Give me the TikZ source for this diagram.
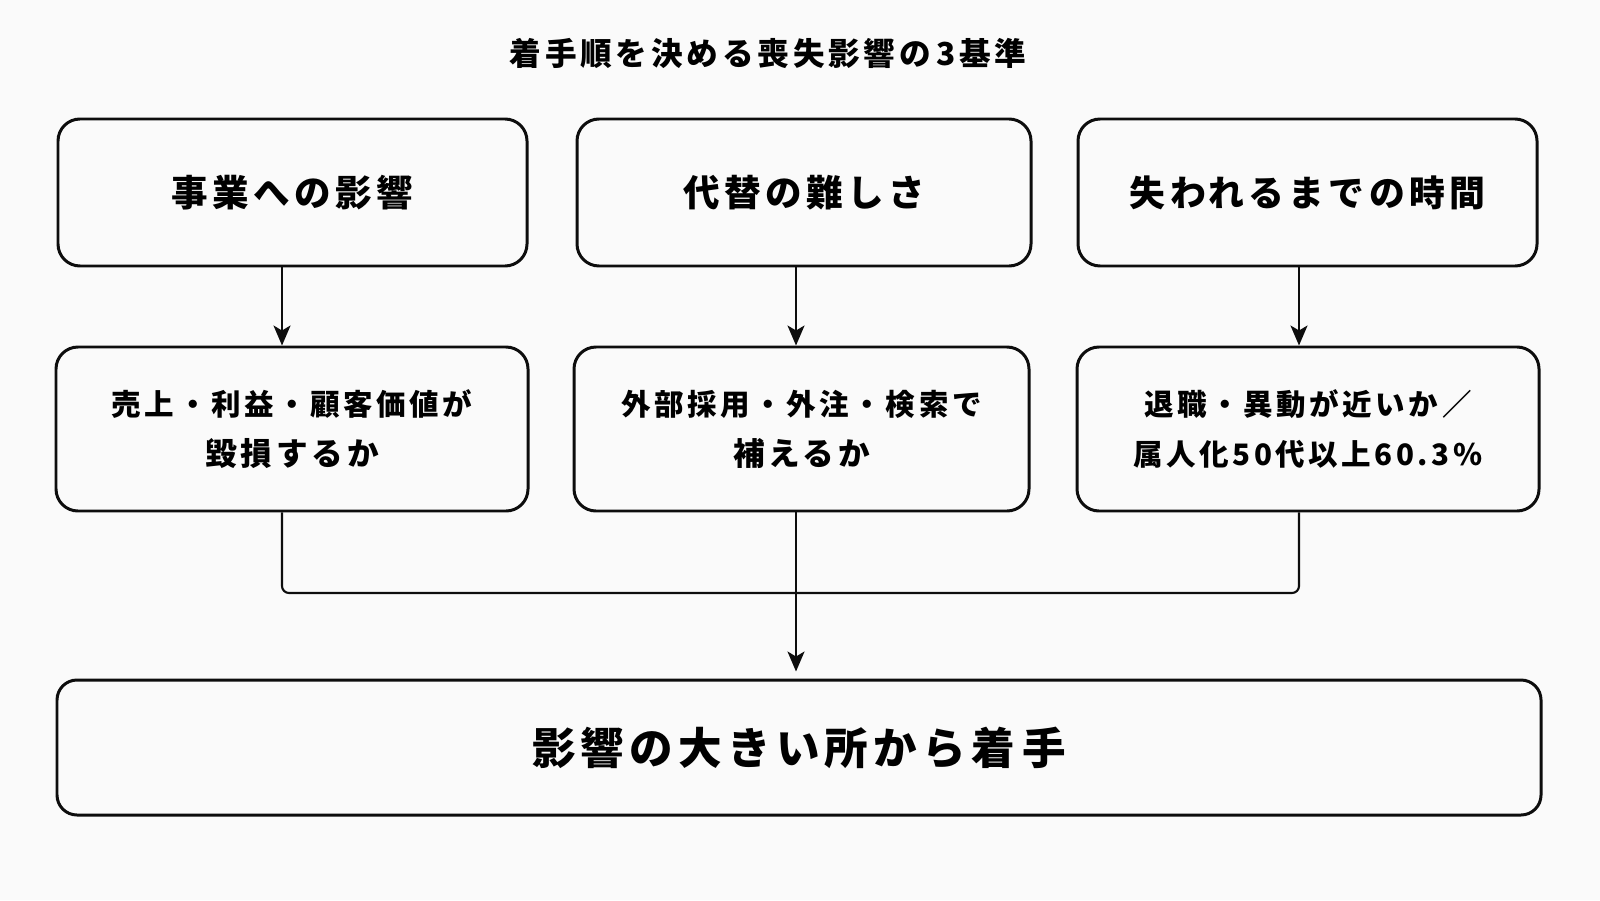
\documentclass[tikz,border=0pt]{standalone}
\usepackage{fontspec}
\setmainfont{Noto Sans CJK JP}[LetterSpace=12]
\usetikzlibrary{arrows.meta, calc}

\tikzset{
  box/.style={draw=black!95, line width=0.85pt, rounded corners=0.22cm, align=center},
  conn/.style={draw=black!95, line width=0.6pt},
  arr/.style={conn, -{Stealth[length=0.2cm, width=0.17cm, inset=0.05cm]}}
}

\begin{document}
\begin{tikzpicture}
\useasboundingbox[fill=black!2] (0,0) rectangle (16,9);
% Title
\node (title) at (7.68,8.47) {\fontsize{9}{10}\selectfont\bfseries 着手順を決める喪失影響の\,3基準};
% Criteria boxes
\node[box, minimum width=4.69cm, minimum height=1.47cm] (t1) at (2.925,7.075) {\fontsize{10.4}{12}\selectfont\bfseries 事業への影響};
\node[box, minimum width=4.54cm, minimum height=1.47cm] (t2) at (8.04,7.075) {\fontsize{10.4}{12}\selectfont\bfseries 代替の難しさ};
\node[box, minimum width=4.59cm, minimum height=1.47cm] (t3) at (13.075,7.075) {\fontsize{10.2}{12}\selectfont\bfseries 失われるまでの時間};
% Question boxes
\node[box, minimum width=4.72cm, minimum height=1.64cm, font=\fontsize{8.4}{14.2}\selectfont\bfseries] (m1) at (2.92,4.71) {売上・利益・顧客価値が\\{\fontsize{9}{14.2}\selectfont 毀損するか}};
\node[box, minimum width=4.55cm, minimum height=1.64cm, font=\fontsize{8.4}{14.2}\selectfont\bfseries] (m2) at (8.015,4.71) {外部採用・外注・検索で\\{\fontsize{9}{14.2}\selectfont 補えるか}};
\node[box, minimum width=4.62cm, minimum height=1.64cm, font=\fontsize{8.4}{14.2}\selectfont\bfseries] (m3) at (13.08,4.71) {退職・異動が近いか／\\属人化50代以上60.3\%};
% Result box
\node[box, minimum width=14.84cm, minimum height=1.35cm, rounded corners=0.2cm] (res) at (7.99,1.525) {\fontsize{12.4}{14}\selectfont\bfseries 影響の大きい所から着\,手};
% Arrow columns
\coordinate (c1) at (2.82,0);
\coordinate (c2) at (7.96,0);
\coordinate (c3) at (12.99,0);
\coordinate (merge) at (0,3.07);
% Arrows
\draw[arr] (t1.south -| c1) -- (m1.north -| c1);
\draw[arr] (t2.south -| c2) -- (m2.north -| c2);
\draw[arr] (t3.south -| c3) -- (m3.north -| c3);
% Merge line
\draw[conn, rounded corners=0.07cm] (m1.south -| c1) -- (c1 |- merge) -- (c3 |- merge) -- (m3.south -| c3);
\draw[arr, shorten >=0.07cm] (m2.south -| c2) -- (res.north -| c2);
\end{tikzpicture}
\end{document}
